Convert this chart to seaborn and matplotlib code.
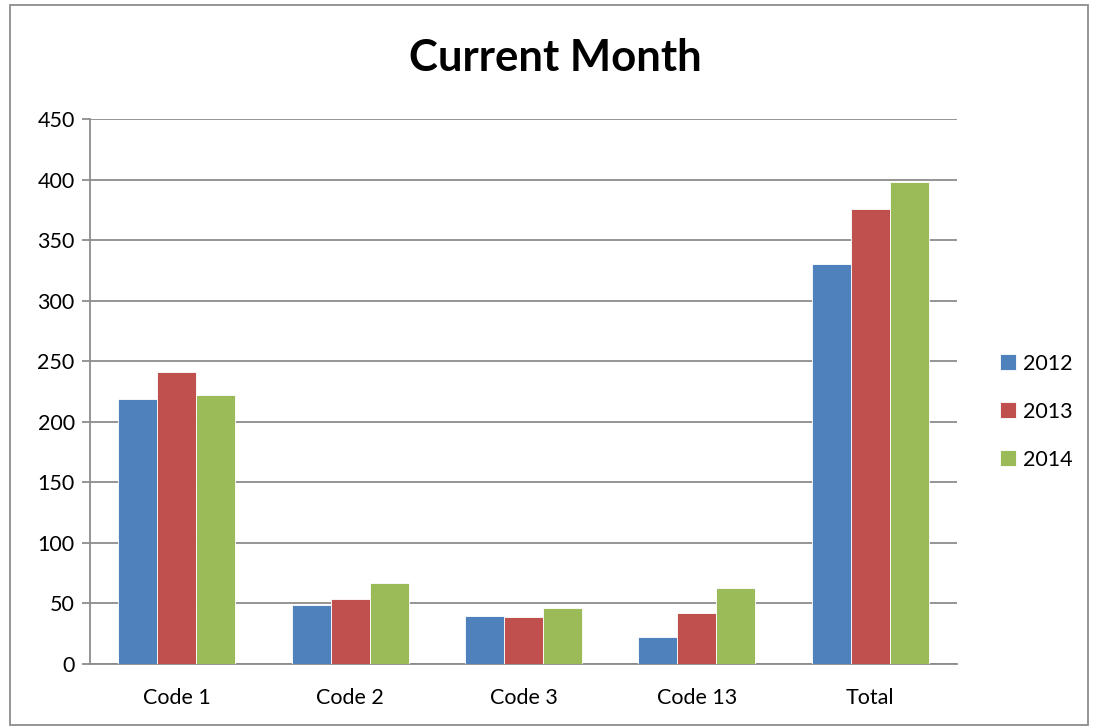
import pandas as pd
import seaborn as sns
import matplotlib
matplotlib.use("Agg")
import matplotlib.pyplot as plt
from matplotlib.patches import Rectangle

# === Data ===
categories = ["Code 1", "Code 2", "Code 3", "Code 13", "Total"]
years = ["2012", "2013", "2014"]
values_2012 = [219, 49, 40, 22, 330]
values_2013 = [241, 54, 39, 42, 376]
values_2014 = [222, 67, 46, 63, 398]
colors = ["#4F81BD", "#C0504D", "#9BBB59"]

df = pd.DataFrame({
    "category": categories * 3,
    "year": [y for y in years for _ in categories],
    "value": values_2012 + values_2013 + values_2014,
})

sns.set_theme(style="white")
plt.rcParams["font.family"] = ["Lato", "DejaVu Sans"]
plt.rcParams["text.color"] = "black"

fig = plt.figure(figsize=(10.93, 7.27), dpi=100)
ax = fig.add_axes([90 / 1093, 1 - 664 / 727, 867 / 1093, 545 / 727])

sns.barplot(data=df, x="category", y="value", hue="year", order=categories,
            hue_order=years, palette=colors, width=0.675, saturation=1,
            edgecolor="white", linewidth=0.6, ax=ax, zorder=3)

ax.set_ylim(0, 450)
ax.set_xlim(-0.5, len(categories) - 0.5)
ax.set_yticks(range(0, 451, 50))
ax.yaxis.grid(True, color="#8c8c8c", linewidth=1.3, zorder=0)
ax.set_axisbelow(True)
ax.set_xlabel("")
ax.set_ylabel("")

for side in ["top", "right"]:
    ax.spines[side].set_visible(False)
for side in ["left", "bottom"]:
    ax.spines[side].set_color("#8c8c8c")
    ax.spines[side].set_linewidth(1.3)

# ticks between the category groups, labels centred under them
ax.set_xticks([i - 0.5 for i in range(len(categories) + 1)], minor=True)
ax.tick_params(axis="x", which="major", length=0, labelsize=15.5, pad=17,
               labelcolor="black")
ax.tick_params(axis="x", which="minor", length=6, width=1.3, color="#8c8c8c", direction="out")
ax.tick_params(axis="y", length=6, width=1.3, color="#8c8c8c", direction="out",
               labelsize=15.5, left=True, pad=5, labelcolor="black")

ax.legend(loc="center left", bbox_to_anchor=(1.027, 0.463), frameon=False,
          fontsize=15.5, handlelength=0.75, handleheight=0.75, handletextpad=0.35,
          labelspacing=1.3)

fig.text(555 / 1093, 1 - 58 / 727, "Current Month", ha="center", va="center",
         fontsize=31.5, fontweight="bold", color="black")

fig.patches.append(Rectangle((10 / 1093, 2 / 727), 1078 / 1093, 720 / 727,
                             transform=fig.transFigure, fill=False,
                             edgecolor="#8c8c8c", linewidth=1.3))

fig.savefig("out.png", dpi=100)
plt.close(fig)
